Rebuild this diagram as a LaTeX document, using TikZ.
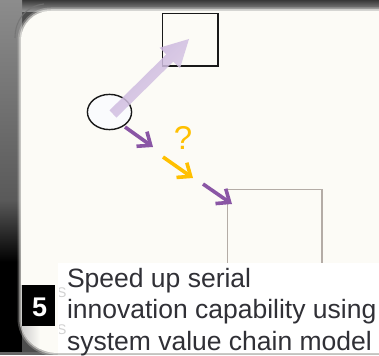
\documentclass[tikz,border=0pt]{standalone}
\usepackage{fontspec}
\setmainfont{Liberation Sans}
\usetikzlibrary{arrows.meta,shapes.geometric}
\definecolor{panel}{HTML}{FCFBF6}
\definecolor{txt}{HTML}{303036}
\definecolor{plum}{HTML}{8A56A5}
\definecolor{amber}{HTML}{FFC000}
\definecolor{boxgray}{HTML}{B4ACA6}
\definecolor{lavA}{HTML}{C2A9D6}
\definecolor{lavB}{HTML}{E0D4EC}
\definecolor{ovalfill}{HTML}{FAFBFD}
\begin{document}
\begin{tikzpicture}[x=1pt,y=-1pt,
  flow/.style={line width=3.6pt, -{Straight Barb[length=11pt,width=18pt]}},
  caption/.style={anchor=base west, inner sep=0pt, text=txt,
    font=\fontsize{26.5}{31.5}\selectfont},
  ghost/.style={anchor=base west, inner sep=0pt, text=black!18,
    font=\fontsize{14}{14}\selectfont}]
\useasboundingbox (0,0) rectangle (379,355);

% dark frame around the panel
\fill[black!70] (0,0) rectangle (379,355);
\shade[top color=black!78, bottom color=black!40] (0,0) rectangle (379,12);
\shade[top color=black!45, bottom color=black!65] (0,0) rectangle (22,200);
\shade[top color=black!65, bottom color=black] (0,200) rectangle (22,262);
\fill[black] (0,262) rectangle (22,355);
\fill[black!60] (0,352) rectangle (379,355);

% the panel with softened edges
\def\PanelOutline{(400,11) -- (51,11) .. controls (34,11) and (21,24) .. (21,41)
  -- (21,318) .. controls (21,338) and (37,353) .. (58,353) -- (400,353) -- cycle}
\draw[panel, line width=7pt, opacity=0.25] \PanelOutline;
\draw[panel, line width=3.5pt, opacity=0.5] \PanelOutline;
\fill[panel] \PanelOutline;
\draw[black!55, line width=1.1pt, opacity=0.8] (15,38) .. controls (15,20) and (26,6) .. (44,4);
\begin{scope}
  \clip \PanelOutline;
  \shade[left color=black!22, right color=panel] (19,285) rectangle (40,353);
\end{scope}

% boxes and oval
\node[draw=black!90, line width=1.3pt, minimum width=55.6pt, minimum height=52.6pt,
  inner sep=0pt, anchor=north west] (sq) at (161.7,12.7) {};
\node[draw=boxgray, line width=1.3pt, minimum width=94.8pt, minimum height=84pt,
  inner sep=0pt, anchor=north west] (gb) at (226.6,188.6) {};
\node[ellipse, draw=black!90, fill=ovalfill, line width=1.4pt, minimum width=44.2pt,
  minimum height=35.2pt, inner sep=0pt] (el) at (109.5,112) {};

% broad translucent arrow from the oval into the square
\shade[left color=lavA, right color=lavB, shading angle=45, fill opacity=0.85]
  (109.5,110.4) -- (116.5,117.6) -- (173.3,61.6) -- (180.0,68.3) -- (189,39)
  -- (159.6,47.7) -- (166.3,54.4) -- cycle;

% chain of small arrows towards the grey box
\coordinate (p1s) at (125,127);  \coordinate (p1e) at (153,147);
\coordinate (o1s) at (163,157);  \coordinate (o1e) at (193,178);
\coordinate (p2s) at (203,184);  \coordinate (p2e) at (232,204);
\draw[flow, plum] (p1s) -- (p1e);
\draw[flow, amber] (o1s) -- (o1e);
\draw[flow, plum] (p2s) -- (p2e);
\node[text=amber, font=\fontsize{33}{33}\selectfont, inner sep=0pt] (q) at (183,138) {?};

% caption area
\fill[white] (58,263) rectangle (379,352.5);
\node[fill=black, minimum width=33pt, minimum height=41pt, inner sep=0pt,
  anchor=north west] (nb) at (22,285) {};
\node[text=white, font=\bfseries\fontsize{27}{27}\selectfont, inner sep=0pt]
  (nbl) at ([xshift=1pt,yshift=-2pt]nb.center) {5};
\begin{scope}
  \clip (59,278) rectangle (66,340);
  \node[ghost] (g1) at (57,297) {S};
  \node[ghost] (g2) at (57,334) {S};
\end{scope}
\node[caption] (l1) at (66.8,287) {Speed up serial};
\node[caption] (l2) at (66.8,318.3) {innovation capability using};
\node[caption] (l3) at (66.8,350) {system value chain model};
\end{tikzpicture}
\end{document}
